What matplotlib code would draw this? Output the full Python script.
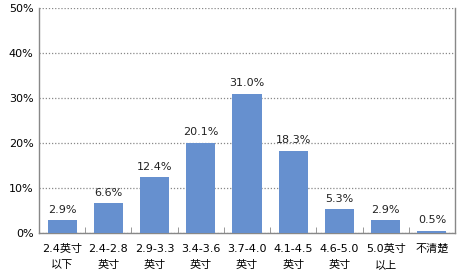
import matplotlib
matplotlib.use("Agg")
import matplotlib.pyplot as plt
from matplotlib.ticker import FuncFormatter, FixedLocator

plt.rcParams['font.family'] = ['DejaVu Sans', 'Noto Sans CJK SC']

categories = ["2.4英寸\n以下", "2.4-2.8\n英寸", "2.9-3.3\n英寸", "3.4-3.6\n英寸", "3.7-4.0\n英寸",
              "4.1-4.5\n英寸", "4.6-5.0\n英寸", "5.0英寸\n以上", "不清楚"]
values = [2.9, 6.6, 12.4, 20.1, 31.0, 18.3, 5.3, 2.9, 0.5]
yticks = [0, 10, 20, 30, 40, 50]

fig = plt.figure(figsize=(4.58, 2.74), dpi=100)
ax = fig.add_axes([39/458, 1 - 233/274, (455-39)/458, (233-8)/274])

x = list(range(len(categories)))
bars = ax.bar(x, values, width=0.63, color='#6690CF', zorder=3)
for xi, v in zip(x, values):
    ax.text(xi, v + 1.2, f"{v:.1f}%", ha='center', va='bottom', fontsize=8, color='#222222')

ax.set_xlim(-0.5, len(categories) - 0.5)
ax.set_ylim(0, 50)
ax.set_yticks(yticks)
ax.yaxis.set_major_formatter(FuncFormatter(lambda v, p: f"{int(v)}%"))
ax.grid(axis='y', linestyle=(0, (1, 1.5)), color='#888888', linewidth=0.9, zorder=0)
ax.set_xticks(x)
ax.set_xticklabels(categories, fontsize=8, linespacing=1.75)
ax.xaxis.set_minor_locator(FixedLocator([i + 0.5 for i in range(-1, len(categories))]))
ax.tick_params(axis='x', which='major', length=0, pad=8)
ax.tick_params(axis='x', which='minor', length=4, color='#888888', direction='in')
ax.tick_params(axis='y', length=0, labelsize=8, pad=4)
for side in ['left', 'right', 'bottom']:
    ax.spines[side].set_color('#888888')
    ax.spines[side].set_linewidth(1.0)
ax.spines['top'].set_visible(False)

fig.savefig("out.png", dpi=100)
